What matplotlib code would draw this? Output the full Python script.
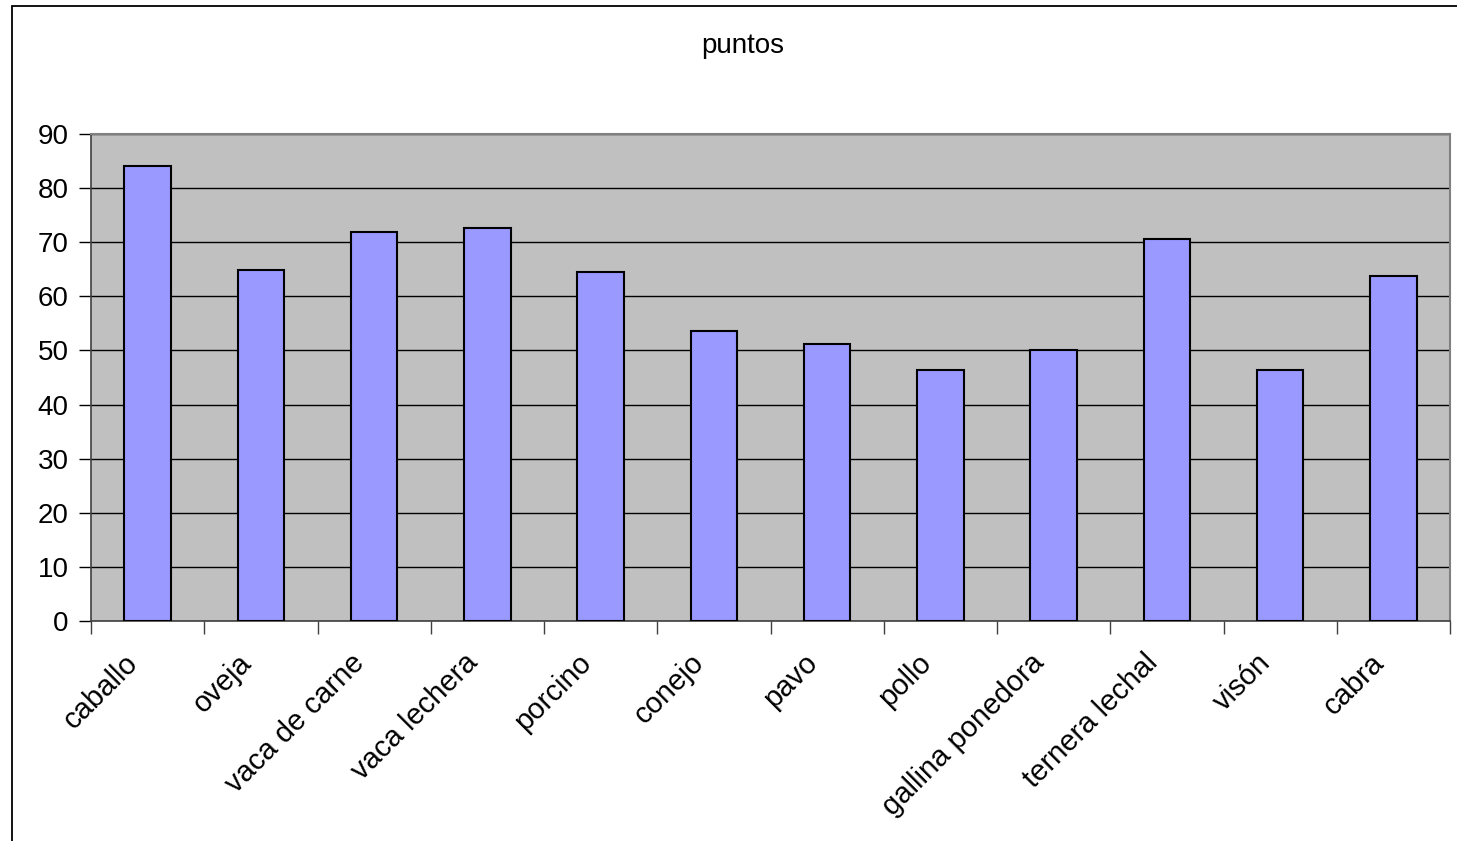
import matplotlib
matplotlib.use("Agg")
import matplotlib.pyplot as plt
from matplotlib.patches import Rectangle
import numpy as np

categories = ["caballo", "oveja", "vaca de carne", "vaca lechera", "porcino", "conejo",
              "pavo", "pollo", "gallina ponedora", "ternera lechal", "visón", "cabra"]
values = [84.0, 64.9, 71.8, 72.6, 64.5, 53.6, 51.2, 46.4, 50.1, 70.6, 46.4, 63.8]
yticks = [0, 10, 20, 30, 40, 50, 60, 70, 80, 90]
title = "puntos"

plt.rcParams['font.family'] = ['Liberation Sans', 'DejaVu Sans']

W, H = 1457, 841
fig = plt.figure(figsize=(W / 100, H / 100), dpi=100)
fig.patch.set_facecolor('white')

# outer chart frame (extends beyond right/bottom edges)
fig.patches.append(Rectangle((12 / W, -0.05), 1.2, 1 - 6 / H + 0.05, transform=fig.transFigure,
                             fill=False, edgecolor='black', linewidth=1.3, zorder=0))

ax = fig.add_axes([91 / W, 1 - 621 / H, (1450 - 91) / W, (621 - 134) / H])
ax.set_facecolor('#C0C0C0')

x = np.arange(len(categories))
ax.bar(x, values, width=0.41, color='#9999FF', edgecolor='black', linewidth=1.5, zorder=3)

ax.set_xlim(-0.5, len(categories) - 0.5)
ax.set_ylim(0, 90)
ax.set_yticks(yticks)
ax.set_yticklabels([str(v) for v in yticks], fontsize=20)
ax.yaxis.grid(True, color='black', linewidth=1.0, zorder=1)
ax.set_axisbelow(True)

ax.set_xticks(np.arange(len(categories) + 1) - 0.5)
ax.set_xticklabels([])
for i, name in enumerate(categories):
    ax.annotate(name, xy=(x[i], 0), xycoords=('data', 'axes fraction'),
                xytext=(-10, -27), textcoords='offset points',
                rotation=45, ha='right', va='center', rotation_mode='anchor',
                fontsize=21, annotation_clip=False)
ax.tick_params(axis='x', length=9, width=1, color='#404040', direction='out')
ax.tick_params(axis='y', length=9, width=1, color='black', direction='out', pad=7)

for s in ['top', 'right']:
    ax.spines[s].set_color('#808080')
    ax.spines[s].set_linewidth(1.5)
for s in ['left', 'bottom']:
    ax.spines[s].set_color('#404040')
    ax.spines[s].set_linewidth(1.2)

fig.text(743 / W, 1 - 46 / H, title, ha='center', va='center', fontsize=20)

fig.savefig('out.png', dpi=100)
